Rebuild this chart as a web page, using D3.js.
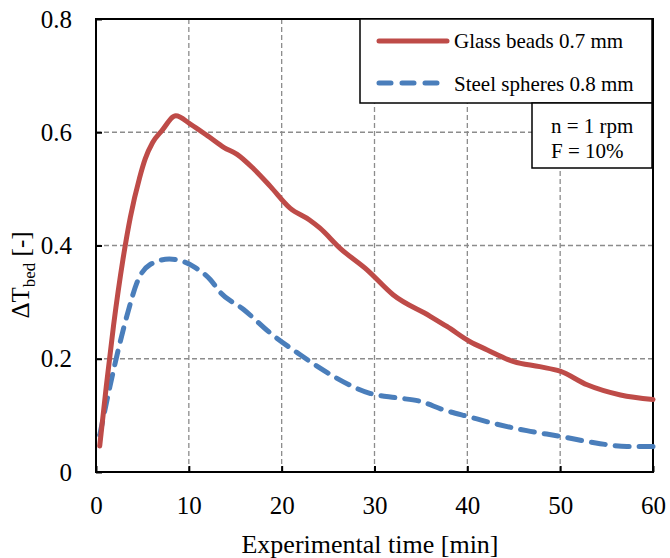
<!DOCTYPE html>
<html>
<head>
<meta charset="utf-8">
<script src="https://cdn.jsdelivr.net/npm/d3@7"></script>
<style>
  body { margin: 0; background: #fff; }
  svg text { font-family: "Liberation Serif", "Times New Roman", "DejaVu Serif", serif !important; fill: #000; }
</style>
</head>
<body>
<div id="chart"></div>
<script>
// data
var glassTime = [0.4, 1.1, 1.9, 2.9, 3.7, 4.7, 5.3, 6.1, 7.1, 8.6, 10.2, 12.0, 13.8, 15.2, 17.0, 18.8, 20.9, 23.0, 24.1, 26.3, 29.2, 32.0, 36.0, 37.8, 40.3, 42.1, 45.0, 47.8, 50.0, 52.9, 56.5, 60];
var glassVal  = [0.046, 0.15, 0.26, 0.375, 0.45, 0.52, 0.553, 0.582, 0.603, 0.629, 0.614, 0.594, 0.573, 0.561, 0.535, 0.504, 0.466, 0.445, 0.431, 0.395, 0.357, 0.313, 0.275, 0.257, 0.230, 0.216, 0.195, 0.186, 0.178, 0.154, 0.136, 0.128];
var steelTime = [0.4, 1.5, 2.4, 3.5, 4.4, 5.8, 7.9, 9.5, 10.7, 12.3, 13.4, 15.9, 18.8, 22.0, 24.1, 25.9, 29.5, 32.4, 34.9, 37.4, 40.3, 42.8, 46.4, 50.0, 54.3, 57.2, 60];
var steelVal  = [0.065, 0.151, 0.216, 0.286, 0.334, 0.366, 0.376, 0.371, 0.361, 0.34, 0.317, 0.287, 0.245, 0.207, 0.184, 0.166, 0.139, 0.131, 0.125, 0.110, 0.097, 0.086, 0.073, 0.063, 0.050, 0.045, 0.045];
var xTicks = [0, 10, 20, 30, 40, 50, 60];
var yTicks = [0, 0.2, 0.4, 0.6, 0.8];
var seriesNames = ["Glass beads 0.7 mm", "Steel spheres 0.8 mm"];
var noteLines = ["n = 1 rpm", "F = 10%"];

var serif = '"Liberation Serif", "Times New Roman", serif';
var width = 670, height = 558;
var margin = {top: 19, right: 17, bottom: 86, left: 96};
var w = width - margin.left - margin.right;
var h = height - margin.top - margin.bottom;

var svg = d3.select("#chart").append("svg")
    .attr("width", width)
    .attr("height", height)
    .attr("font-family", serif);
var g = svg.append("g")
    .attr("transform", "translate(" + margin.left + "," + margin.top + ")");

var x = d3.scaleLinear().domain([0, 60]).range([0, w]);
var y = d3.scaleLinear().domain([0, 0.8]).range([h, 0]);

// grid
g.selectAll(".vgrid")
  .data(xTicks.slice(1, -1))
  .enter().append("line")
  .attr("x1", function(d) { return x(d); })
  .attr("x2", function(d) { return x(d); })
  .attr("y1", 0).attr("y2", h)
  .attr("stroke", "#8c8c8c").attr("stroke-width", 1.3)
  .attr("stroke-dasharray", "5,3");
g.selectAll(".hgrid")
  .data(yTicks.slice(1, -1))
  .enter().append("line")
  .attr("y1", function(d) { return y(d); })
  .attr("y2", function(d) { return y(d); })
  .attr("x1", 0).attr("x2", w)
  .attr("stroke", "#8c8c8c").attr("stroke-width", 1.3)
  .attr("stroke-dasharray", "5,3");

// axes (ticks point inward)
var xAxis = g.append("g")
  .attr("transform", "translate(0," + h + ")")
  .call(d3.axisBottom(x).tickValues(xTicks).tickSize(-6).tickPadding(24).tickFormat(d3.format("d")));
var yAxis = g.append("g")
  .call(d3.axisLeft(y).tickValues(yTicks).tickSize(-6).tickPadding(24)
    .tickFormat(function(d) { return d === 0 ? "0" : d3.format(".1f")(d); }));
[xAxis, yAxis].forEach(function(a) {
  a.attr("font-family", serif).attr("font-size", 25);
  a.select(".domain").remove();
  a.selectAll("line").attr("stroke", "#000").attr("stroke-width", 2);
});

// frame
g.append("rect")
  .attr("width", w).attr("height", h)
  .attr("fill", "none").attr("stroke", "#000").attr("stroke-width", 2);

// lines
var line = d3.line()
  .x(function(d) { return x(d[0]); })
  .y(function(d) { return y(d[1]); })
  .curve(d3.curveMonotoneX);

var glass = d3.zip(glassTime, glassVal);
var steel = d3.zip(steelTime, steelVal);

g.append("path").datum(steel)
  .attr("d", line)
  .attr("fill", "none").attr("stroke", "#4a7ebb").attr("stroke-width", 5)
  .attr("stroke-linecap", "round").attr("stroke-dasharray", "14,10");
g.append("path").datum(glass)
  .attr("d", line)
  .attr("fill", "none").attr("stroke", "#be4b48").attr("stroke-width", 5)
  .attr("stroke-linecap", "round");

// legend
var leg = svg.append("g");
leg.append("rect")
  .attr("x", 360).attr("y", 19).attr("width", 292).attr("height", 84)
  .attr("fill", "#fff").attr("stroke", "#000").attr("stroke-width", 1.5);
leg.append("line")
  .attr("x1", 379).attr("x2", 447).attr("y1", 41).attr("y2", 41)
  .attr("stroke", "#be4b48").attr("stroke-width", 5).attr("stroke-linecap", "round");
leg.append("line")
  .attr("x1", 379).attr("x2", 447).attr("y1", 83).attr("y2", 83)
  .attr("stroke", "#4a7ebb").attr("stroke-width", 5).attr("stroke-linecap", "round")
  .attr("stroke-dasharray", "12,11");
leg.selectAll(".legtext")
  .data(seriesNames)
  .enter().append("text")
  .attr("x", 454)
  .attr("y", function(d, i) { return 48 + i * 43; })
  .attr("font-size", 21)
  .text(function(d) { return d; });

// note box
svg.append("rect")
  .attr("x", 532).attr("y", 103).attr("width", 120).attr("height", 65)
  .attr("fill", "#fff").attr("stroke", "#000").attr("stroke-width", 1.5);
svg.selectAll(".note")
  .data(noteLines)
  .enter().append("text")
  .attr("x", 551)
  .attr("y", function(d, i) { return 133 + i * 25; })
  .attr("font-size", 21)
  .text(function(d) { return d; });

// axis titles
svg.append("text")
  .attr("x", 370)
  .attr("y", 553)
  .attr("text-anchor", "middle")
  .attr("font-size", 26)
  .text("Experimental time [min]");

var yt = svg.append("text")
  .attr("transform", "translate(29,275) rotate(-90)")
  .attr("text-anchor", "middle")
  .attr("font-size", 25);
yt.append("tspan").text("ΔT");
yt.append("tspan").attr("dy", 6).attr("font-size", 17).text("bed");
yt.append("tspan").attr("dy", -6).text(" [-]");
</script>
</body>
</html>
